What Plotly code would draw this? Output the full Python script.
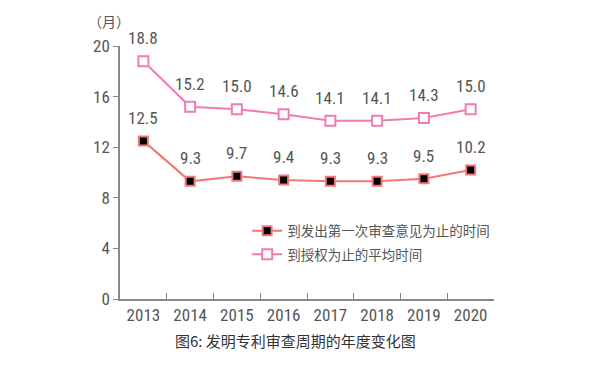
import plotly.graph_objects as go

years = ["2013", "2014", "2015", "2016", "2017", "2018", "2019", "2020"]
first_action = [12.5, 9.3, 9.7, 9.4, 9.3, 9.3, 9.5, 10.2]
grant_time = [18.8, 15.2, 15.0, 14.6, 14.1, 14.1, 14.3, 15.0]
name_first = "到发出第一次审查意见为止的时间"
name_grant = "到授权为止的平均时间"
y_ticks = [0, 4, 8, 12, 16, 20]
caption = "图6: 发明专利审查周期的年度变化图"
unit = "（月）"

num_font = "Liberation Sans Narrow, Roboto Condensed, Arial Narrow, Roboto, sans-serif"
cjk_font = "Noto Sans CJK SC, sans-serif"
red = "#f27878"
pink = "#f07cb4"
gray = "#555555"

fig = go.Figure()
fig.add_trace(go.Scatter(
    x=years, y=first_action, name=name_first, mode="lines+markers",
    legendgroup="a",
    line=dict(color=red, width=2),
    marker=dict(symbol="square", size=9, color="black", line=dict(color=red, width=2)),
))
fig.add_trace(go.Scatter(
    x=years, y=grant_time, name=name_grant, mode="lines+markers",
    legendgroup="b",
    line=dict(color=pink, width=2),
    marker=dict(symbol="square", size=10, color="white", line=dict(color=pink, width=2)),
))

annotations = []
for series in (first_action, grant_time):
    for i, v in enumerate(series):
        annotations.append(dict(x=i, y=v, text=f"{v:.1f}", showarrow=False,
                                yshift=23, font=dict(family=num_font, size=17, color=gray)))
annotations.append(dict(xref="paper", yref="paper", x=-0.03, y=1.0, yshift=37,
                        xanchor="center", text=unit, showarrow=False,
                        font=dict(family=cjk_font, size=14, color=gray)))
annotations.append(dict(xref="paper", yref="paper", x=0.47, y=0, yshift=-41,
                        text=caption, showarrow=False, yanchor="middle",
                        font=dict(family=cjk_font, size=15, color="#333333")))

fig.update_layout(
    width=613, height=371,
    margin=dict(l=112, r=127, t=38, b=80),
    paper_bgcolor="white", plot_bgcolor="white",
    showlegend=True,
    legend=dict(x=0.34, y=0.33, xanchor="left", yanchor="top",
                bgcolor="rgba(0,0,0,0)",
                font=dict(family=cjk_font, size=13.5, color=gray),
                traceorder="grouped", tracegroupgap=3, itemwidth=30),
    annotations=annotations,
    xaxis=dict(type="category", range=[-0.5, 7.5], tickson="boundaries",
               ticks="inside", ticklen=6, tickcolor="#888888",
               showline=True, linecolor="#888888", linewidth=1.5,
               showgrid=False, zeroline=False,
               tickfont=dict(family=num_font, size=17, color=gray)),
    yaxis=dict(range=[0, 20], tickvals=y_ticks, ticks="outside", ticklen=5,
               tickcolor="#888888", showline=True, linecolor="#888888", linewidth=1.5,
               showgrid=False, zeroline=False,
               tickfont=dict(family=num_font, size=17, color=gray)),
)

fig.write_html("out.html")
